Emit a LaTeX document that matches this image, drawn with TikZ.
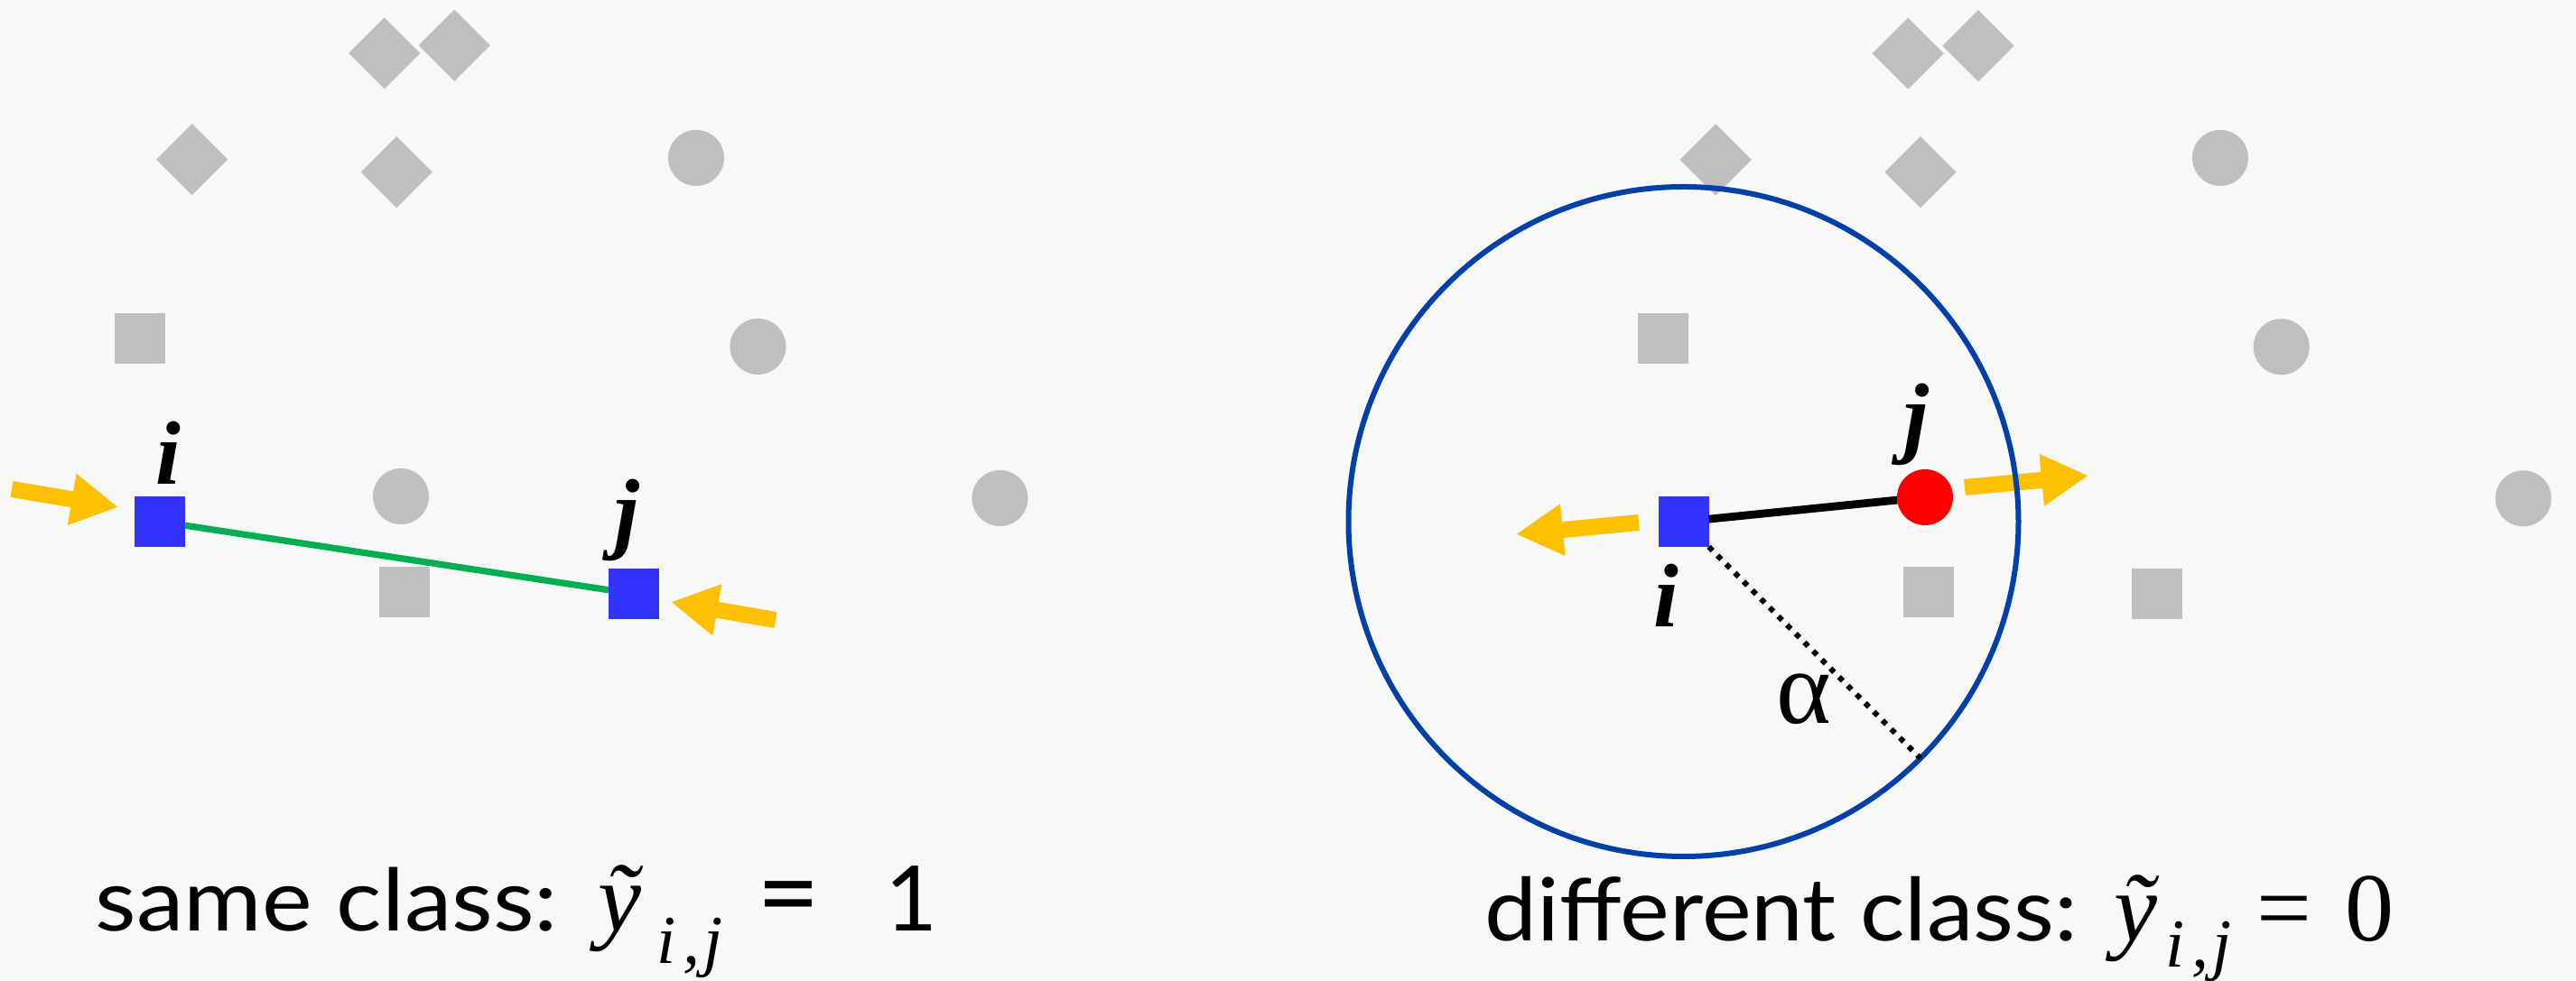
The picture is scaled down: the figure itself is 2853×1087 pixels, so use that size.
\documentclass[tikz,border=0pt]{standalone}
\usepackage{graphicx}
\usepackage{fontspec}
\setmainfont{Liberation Serif}
\newfontfamily\capfont{Lato}
\usetikzlibrary{arrows.meta}
\definecolor{bg}{HTML}{F8F8F8}
\definecolor{pgray}{HTML}{BFBFBF}
\definecolor{pblue}{HTML}{3333FF}
\definecolor{pred}{HTML}{FF0000}
\definecolor{pyellow}{HTML}{FFC000}
\definecolor{pgreen}{HTML}{00B050}
\definecolor{ring}{HTML}{0040A8}
\begin{document}
\begin{tikzpicture}[x=0.25pt,y=-0.25pt,
  gsq/.style={rectangle,fill=pgray,minimum size=14pt,inner sep=0,outer sep=0},
  gdia/.style={gsq,rotate=45},
  gdot/.style={circle,fill=pgray,minimum size=15.5pt,inner sep=0,outer sep=0},
  bsq/.style={rectangle,fill=pblue,minimum size=14pt,inner sep=0,outer sep=0},
  rdot/.style={circle,fill=pred,minimum size=15.5pt,inner sep=0,outer sep=0},
  push/.style={draw=pyellow,line width=4.5pt,-{Triangle[length=13pt,width=13.5pt]}},
  lbl/.style={inner sep=0,anchor=base,font=\fontsize{25}{30}\selectfont\bfseries\itshape},
  captext/.style={inner sep=0,anchor=base west,font=\fontsize{25}{30}\selectfont\capfont},
  mathy/.style={inner sep=0,anchor=base west,font=\fontsize{27}{32}\selectfont\itshape},
  subs/.style={inner sep=0,anchor=base west,font=\fontsize{19}{22}\selectfont\itshape},
  rmtext/.style={inner sep=0,anchor=base west,font=\fontsize{27}{32}\selectfont}
]
\fill[bg] (0,0) rectangle (2853,1087);
\useasboundingbox (0,0) rectangle (2853,1087);

% ---------- left panel ----------
\node[gdia] (ld1) at (425.7,59) {};
\node[gdia] (ld2) at (503.3,50.3) {};
\node[gdia] (ld3) at (212.7,176.7) {};
\node[gdia] (ld4) at (439.3,190.7) {};
\node[gdot] (lc1) at (771,175) {};
\node[gdot] (lc2) at (839.5,384) {};
\node[gdot] (lc3) at (444,550) {};
\node[gdot] (lc4) at (1107.5,552) {};
\node[gsq] (ls1) at (155,375) {};
\node[gsq] (ls2) at (448,656) {};
\node[bsq] (li) at (177,578) {};
\node[bsq] (lj) at (702,658) {};
\draw[pgreen,line width=1.8pt] (li) -- (lj);
\node[lbl] (lilab) at (186,537) {i};
\node[lbl] (ljlab) at (694,601) {j};
\coordinate (a1s) at (13,542);
\coordinate (a1e) at (131,562);
\coordinate (a2s) at (859,687);
\coordinate (a2e) at (743,667);
\draw[push] (a1s) -- (a1e);
\draw[push] (a2s) -- (a2e);

% ---------- right panel ----------
\node[gdia] (rd1) at (2113.3,59.3) {};
\node[gdia] (rd2) at (2191,50.7) {};
\node[gdia] (rd3) at (1900.3,177) {};
\node[gdia] (rd4) at (2127,190.7) {};
\node[gdot] (rc1) at (2459,175) {};
\node[gdot] (rc2) at (2526.7,384.3) {};
\node[gdot] (rc3) at (2794.7,552.3) {};
\node[gsq] (rs1) at (1842,375) {};
\node[gsq] (rs2) at (2136,656) {};
\node[gsq] (rs3) at (2389,658) {};
\node[bsq] (ri) at (1864.5,578) {};
\node[rdot] (rj) at (2132,551) {};
\draw[black,line width=2.2pt] (ri) -- (rj);
\coordinate (a3s) at (1815,579);
\coordinate (a3e) at (1679,592);
\coordinate (a4s) at (2176,540);
\coordinate (a4e) at (2313,527);
\draw[push] (a3s) -- (a3e);
\draw[push] (a4s) -- (a4e);
\node[circle,draw=ring,line width=1.5pt,minimum size=185.5pt,inner sep=0,outer sep=0] (ring) at (ri) {};
\draw[line width=1.5pt,dash pattern=on 1.5pt off 1.9pt] (ri.south east) -- (ring.-45);
\node[lbl] (rjlab) at (2122,495) {j};
\node[lbl] (rilab) at (1845,695) {i};
\node[inner sep=0,anchor=base,font=\fontsize{29}{32}\selectfont] (alpha) at (1998,802) {α};

% ---------- captions ----------
\node[captext] (t1) at (105,1032) {\resizebox{128pt}{17.6pt}{same class:}};
\node[mathy] (t1y) at (662,1032) {ỹ};
\node[subs] (t1s) at (727,1068) {i\kern2pt,\kern1pt j};
\node[captext] (t1eq) at (838,1032) {\resizebox{17.5pt}{!}{=}};
\node[captext] (t1n) at (980,1032) {1};

\node[captext] (t2) at (1644,1043) {\resizebox{164pt}{17.8pt}{different class:}};
\node[mathy] (t2y) at (2341,1043) {ỹ};
\node[subs] (t2s) at (2398,1072) {i\kern2pt,\kern1pt j};
\node[rmtext] (t2eq) at (2499,1043) {=};
\node[rmtext] (t2n) at (2597,1043) {0};
\end{tikzpicture}
\end{document}
